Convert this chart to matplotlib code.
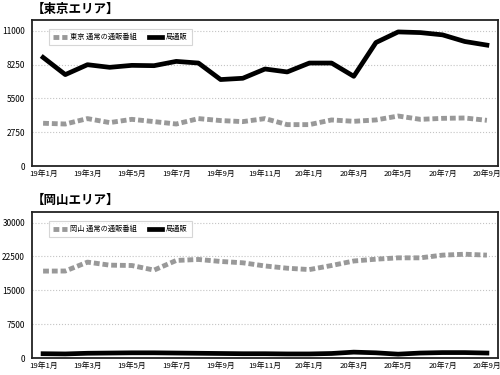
import matplotlib
matplotlib.use("Agg")
import matplotlib.pyplot as plt

plt.rcParams['font.family'] = ['Noto Sans CJK JP', 'DejaVu Sans']

months = ["19年1月", "19年2月", "19年3月", "19年4月", "19年5月", "19年6月",
          "19年7月", "19年8月", "19年9月", "19年10月", "19年11月", "19年12月",
          "20年1月", "20年2月", "20年3月", "20年4月", "20年5月", "20年6月",
          "20年7月", "20年8月", "20年9月"]

tokyo_normal = [3480, 3420, 3860, 3535, 3800, 3615, 3420, 3860, 3700, 3615, 3860,
                3370, 3370, 3750, 3640, 3750, 4070, 3800, 3880, 3910, 3720]
tokyo_station = [8843, 7443, 8250, 8035, 8196, 8170, 8520, 8385, 7040, 7145, 7900,
                 7660, 8385, 8385, 7305, 10055, 10920, 10865, 10680, 10140, 9845]

okayama_normal = [19260, 19280, 21250, 20580, 20500, 19480, 21620, 21840, 21400,
                  21100, 20400, 19900, 19600, 20500, 21500, 21900, 22200, 22200,
                  22800, 23000, 22800]
okayama_station = [950, 900, 1050, 1100, 1150, 1150, 1100, 1050, 1000, 950, 950,
                   900, 900, 1000, 1300, 1150, 850, 1100, 1200, 1200, 1100]

panels = [
    ("【東京エリア】", "東京 通常の通販番組", tokyo_normal, tokyo_station,
     [0, 2750, 5500, 8250, 11000], 11890),
    ("【岡山エリア】", "岡山 通常の通販番組", okayama_normal, okayama_station,
     [0, 7500, 15000, 22500, 30000], 32360),
]

fig = plt.figure(figsize=(5, 3.75), dpi=100)
# axes boxes in figure pixels: left 32, right 498; top panel y 20-166, bottom y 212-358
boxes = [[32 / 500, 1 - 166 / 375, 466 / 500, 146 / 375],
         [32 / 500, 1 - 358 / 375, 466 / 500, 146 / 375]]
title_y = [1 - 9 / 375, 1 - 200 / 375]

for box, ty, (title, label, normal, station, yticks, ytop) in zip(boxes, title_y, panels):
    ax = fig.add_axes(box)
    x = list(range(len(months)))
    ax.plot(x, normal, color='#999999', linestyle=(0, (1.2, 0.6)), linewidth=3.5,
            label=label)
    ax.plot(x, station, color='black', linewidth=3.4, label="局通販")
    ax.set_xlim(-0.5, len(months) - 0.5)
    ax.set_ylim(0, ytop)
    ax.set_yticks(yticks)
    ax.set_yticklabels([str(v) for v in yticks], fontsize=6)
    ax.set_xticks(x[::2])
    ax.set_xticklabels(months[::2], fontsize=5.6)
    ax.tick_params(axis='y', length=0, pad=5)
    ax.tick_params(axis='x', length=0, pad=3)
    ax.grid(axis='y', color='#c4c4c4', linestyle=':', linewidth=0.8)
    ax.set_axisbelow(True)
    for side in ax.spines.values():
        side.set_linewidth(1.3)
        side.set_color('#222222')
    leg = ax.legend(loc='upper left', ncol=2, fontsize=5.2, frameon=True,
                    fancybox=False, handlelength=1.9, handletextpad=0.5,
                    columnspacing=1.6, borderpad=0.6,
                    bbox_to_anchor=(0.028, 0.965))
    leg.get_frame().set_edgecolor('#cccccc')
    leg.get_frame().set_linewidth(0.8)
    fig.text(32 / 500, ty, title, fontsize=9, fontweight='bold',
             ha='left', va='center')

fig.savefig("out.png", dpi=100)
